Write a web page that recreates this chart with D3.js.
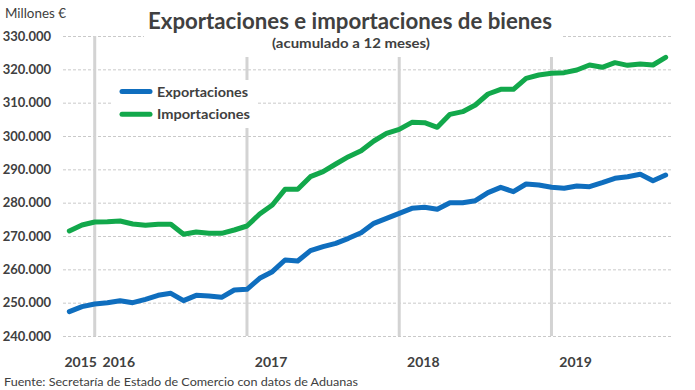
<!DOCTYPE html>
<html>
<head>
<meta charset="utf-8">
<script src="https://cdn.jsdelivr.net/npm/d3@7"></script>
<style>
  html, body { margin: 0; padding: 0; background: #fff; }
  svg { display: block; }
  text { font-family: Lato, "Open Sans", sans-serif; fill: #404040; }
</style>
</head>
<body>
<svg id="chart" width="695" height="390"></svg>
<script>
// ---- Data (millones de euros, acumulado 12 meses) ----
const months = [
  "2015-10","2015-11","2015-12",
  "2016-01","2016-02","2016-03","2016-04","2016-05","2016-06","2016-07","2016-08","2016-09","2016-10","2016-11","2016-12",
  "2017-01","2017-02","2017-03","2017-04","2017-05","2017-06","2017-07","2017-08","2017-09","2017-10","2017-11","2017-12",
  "2018-01","2018-02","2018-03","2018-04","2018-05","2018-06","2018-07","2018-08","2018-09","2018-10","2018-11","2018-12",
  "2019-01","2019-02","2019-03","2019-04","2019-05","2019-06","2019-07","2019-08","2019-09"
];
const exportaciones = [
  247300, 248800, 249600, 250000, 250600, 250000, 251000, 252200, 252800, 250600, 252200, 252000,
  251600, 253800, 254000, 257300, 259300, 262800, 262500, 265600, 266800, 267800, 269300, 271000,
  273800, 275300, 276800, 278300, 278600, 278000, 280000, 280000, 280600, 283000, 284600, 283300,
  285600, 285300, 284600, 284300, 285000, 284800, 286000, 287300, 287800, 288500, 286600, 288300
];
const importaciones = [
  271500, 273300, 274200, 274300, 274500, 273600, 273200, 273500, 273500, 270500, 271200, 270800,
  270800, 271800, 273000, 276600, 279300, 284000, 284000, 287800, 289300, 291600, 293800, 295600,
  298500, 300800, 302000, 304100, 304000, 302600, 306500, 307300, 309300, 312600, 314000, 314000,
  317300, 318300, 318800, 319000, 319800, 321300, 320600, 322000, 321200, 321600, 321300, 323600
];
const yTicks = [240000, 250000, 260000, 270000, 280000, 290000, 300000, 310000, 320000, 330000];
const yearTickMonths = ["2015-10", "2016-01", "2017-01", "2018-01", "2019-01"];
const yearTickLabels = ["2015", "2016", "2017", "2018", "2019"];
const yearEndMonths = ["2015-12", "2016-12", "2017-12", "2018-12"];
const seriesNames = ["Exportaciones", "Importaciones"];
const seriesColors = ["#0F6EBE", "#12A84B"];

// ---- Layout ----
const svg = d3.select("#chart");
const plotL = 63, plotR = 672, plotT = 36, plotB = 336;

const x = d3.scalePoint().domain(months).range([plotL, plotR]).padding(0.5);
const y = d3.scaleLinear().domain([240000, 330000]).range([plotB, plotT]);

const loc = d3.formatLocale({ decimal: ",", thousands: ".", grouping: [3], currency: ["", "€"] });
const fmt = loc.format(",.0f");

// Gridlines + y labels
const yAxis = d3.axisLeft(y).tickValues(yTicks).tickFormat(fmt)
  .tickSizeInner(-(plotR - plotL)).tickSizeOuter(0).tickPadding(12);
const gy = svg.append("g").attr("transform", `translate(${plotL},0)`).call(yAxis);
gy.select(".domain").remove();
gy.selectAll(".tick line").attr("stroke", "#c9c9c9").attr("stroke-dasharray", "3,2").attr("stroke-width", 1);
gy.selectAll(".tick text").attr("font-size", 13).attr("font-weight", "bold").attr("fill", "#404040")
  .style("font-family", "Lato, sans-serif");

// Year-end vertical separators
svg.append("g").selectAll("line").data(yearEndMonths).join("line")
  .attr("x1", d => x(d)).attr("x2", d => x(d))
  .attr("y1", y(330000)).attr("y2", y(240000))
  .attr("stroke", "#d3d3d3").attr("stroke-width", 3);

// X axis labels (years)
const xAxis = d3.axisBottom(x).tickValues(yearTickMonths)
  .tickFormat((d, i) => yearTickLabels[i]).tickSize(0).tickPadding(0);
const gx = svg.append("g").attr("transform", `translate(0,${plotB})`).call(xAxis);
gx.select(".domain").remove();
gx.selectAll(".tick text")
  .attr("text-anchor", "start").attr("dx", -x.step() / 2 + 1).attr("y", 31).attr("dy", 0)
  .attr("font-size", 14).attr("font-weight", "bold").attr("fill", "#404040")
  .style("font-family", "Lato, sans-serif");

// Title box (white background) and titles
svg.append("rect").attr("x", 144).attr("y", 0).attr("width", 419).attr("height", 57).attr("fill", "#fff");
svg.append("text").attr("x", 350).attr("y", 29).attr("text-anchor", "middle")
  .attr("font-size", 22).attr("font-weight", "bold").attr("fill", "#3f3f3f")
  .attr("textLength", 404).attr("lengthAdjust", "spacingAndGlyphs")
  .text("Exportaciones e importaciones de bienes");
svg.append("text").attr("x", 351).attr("y", 48).attr("text-anchor", "middle")
  .attr("font-size", 13).attr("font-weight", "bold").attr("fill", "#404040")
  .attr("textLength", 158).attr("lengthAdjust", "spacingAndGlyphs")
  .text("(acumulado a 12 meses)");

svg.append("text").attr("x", 5).attr("y", 18)
  .attr("font-size", 13).attr("fill", "#404040")
  .attr("textLength", 61).attr("lengthAdjust", "spacingAndGlyphs")
  .text("Millones €");

svg.append("text").attr("x", 4).attr("y", 386)
  .attr("font-size", 12).attr("fill", "#404040")
  .attr("textLength", 354).attr("lengthAdjust", "spacingAndGlyphs")
  .text("Fuente: Secretaría de Estado de Comercio con datos de Aduanas");

// Lines
const line = d3.line().x((d, i) => x(months[i])).y(d => y(d));
[exportaciones, importaciones].forEach((s, k) => {
  svg.append("path").datum(s).attr("d", line)
    .attr("fill", "none").attr("stroke", seriesColors[k]).attr("stroke-width", 5)
    .attr("stroke-linejoin", "round").attr("stroke-linecap", "round");
});

// Legend
svg.append("rect").attr("x", 113).attr("y", 80).attr("width", 144).attr("height", 48).attr("fill", "#fff");
const lg = svg.append("g");
seriesNames.forEach((name, k) => {
  const ly = 91.5 + k * 22.7;
  lg.append("line").attr("x1", 122).attr("x2", 150).attr("y1", ly).attr("y2", ly)
    .attr("stroke", seriesColors[k]).attr("stroke-width", 5).attr("stroke-linecap", "round");
  lg.append("text").attr("x", 157).attr("y", ly + 5)
    .attr("font-size", 14).attr("font-weight", "bold").attr("fill", "#404040")
    .attr("textLength", k === 0 ? 91 : 93).attr("lengthAdjust", "spacingAndGlyphs")
    .text(name);
});
</script>
</body>
</html>
